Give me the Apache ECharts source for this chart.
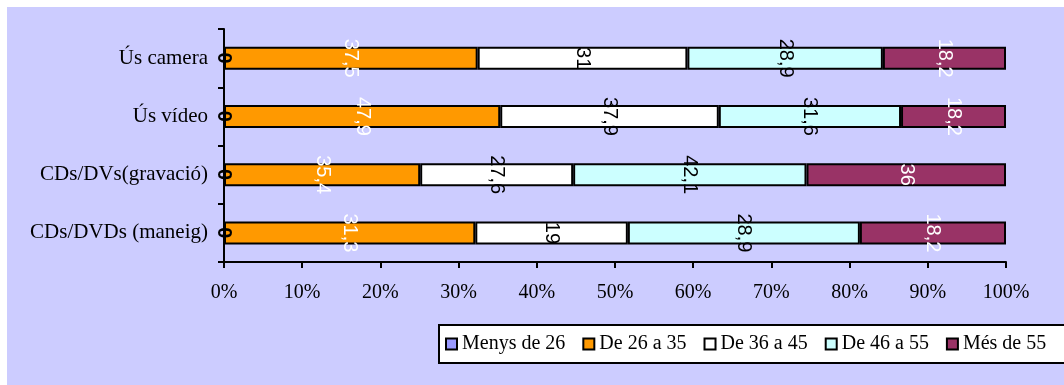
<!DOCTYPE html>
<html>
<head>
<meta charset="utf-8">
<script src="https://cdn.jsdelivr.net/npm/echarts@6/dist/echarts.min.js"></script>
<style>
  html, body { margin: 0; padding: 0; background: #ffffff; }
  #chart { position: absolute; left: 7px; top: 7px; width: 1057px; height: 378px; background: #CCCCFF; }
</style>
</head>
<body>
<div id="chart"></div>
<script>
// Age groups per activity (raw counts), shown as a 100% stacked bar
const categories = ['Ús camera', 'Ús vídeo', 'CDs/DVs(gravació)', 'CDs/DVDs (maneig)'];
const seriesNames = ['Menys de 26', 'De 26 a 35', 'De 36 a 45', 'De 46 a 55', 'Més de 55'];
const menysDe26 = [0, 0, 0, 0];
const de26a35 = [37.5, 47.9, 35.4, 31.3];
const de36a45 = [31, 37.9, 27.6, 19];
const de46a55 = [28.9, 31.6, 42.1, 28.9];
const mesDe55 = [18.2, 18.2, 36, 18.2];
const xTickValues = [0, 10, 20, 30, 40, 50, 60, 70, 80, 90, 100];

const colors = ['#9999FF', '#FF9900', '#FFFFFF', '#CCFFFF', '#993366'];
const labelColors = ['#000000', '#FFFFFF', '#000000', '#000000', '#FFFFFF'];
const groups = [menysDe26, de26a35, de36a45, de46a55, mesDe55];

const totals = categories.map((_, i) => groups.reduce((s, g) => s + g[i], 0));

const SERIF = "'Liberation Serif', 'Times New Roman', serif";
const SANS = "'Liberation Sans', Arial, sans-serif";

const series = groups.map((g, k) => ({
  name: seriesNames[k],
  type: 'bar',
  stack: 'total',
  barWidth: 23,
  data: g.map((v, i) => ({ value: v / totals[i] * 100, raw: v })),
  itemStyle: { color: colors[k], borderColor: '#000000', borderWidth: 2 },
  label: {
    show: true,
    position: 'inside',
    rotate: -90,
    color: labelColors[k],
    fontFamily: SANS,
    fontSize: 20,
    fontWeight: k === 0 ? 'bold' : 'normal',
    formatter: p => String(p.data.raw).replace('.', ',')
  }
}));

const chart = echarts.init(document.getElementById('chart'), null, { renderer: 'canvas' });
chart.setOption({
  animation: false,
  backgroundColor: 'transparent',
  color: colors,
  grid: { left: 217, right: 58, top: 22, bottom: 123 },
  xAxis: {
    type: 'value',
    min: 0,
    max: 100,
    interval: 10,
    axisLine: { show: true, lineStyle: { color: '#000000', width: 2 } },
    axisTick: { show: true, length: 6, lineStyle: { color: '#000000', width: 2 } },
    splitLine: { show: false },
    axisLabel: {
      margin: 21,
      color: '#000000',
      fontFamily: SERIF,
      fontSize: 20,
      formatter: v => xTickValues.includes(v) ? v + '%' : ''
    }
  },
  yAxis: {
    type: 'category',
    inverse: true,
    data: categories,
    axisLine: { show: true, lineStyle: { color: '#000000', width: 2 } },
    axisTick: { show: true, length: 6, lineStyle: { color: '#000000', width: 2 } },
    axisLabel: { margin: 16, color: '#000000', fontFamily: SERIF, fontSize: 21 }
  },
  legend: {
    data: seriesNames,
    left: 438,
    top: 327,
    padding: 0,
    itemGap: 17,
    itemWidth: 11,
    itemHeight: 11,
    icon: 'rect',
    selectedMode: false,
    textStyle: { color: '#000000', fontFamily: SERIF, fontSize: 20 }
  },
  graphic: [{
    type: 'rect',
    z: -1,
    shape: { x: 432, y: 318, width: 700, height: 38 },
    style: { fill: '#FFFFFF', stroke: '#000000', lineWidth: 2 }
  }],
  series: series
});
</script>
</body>
</html>
